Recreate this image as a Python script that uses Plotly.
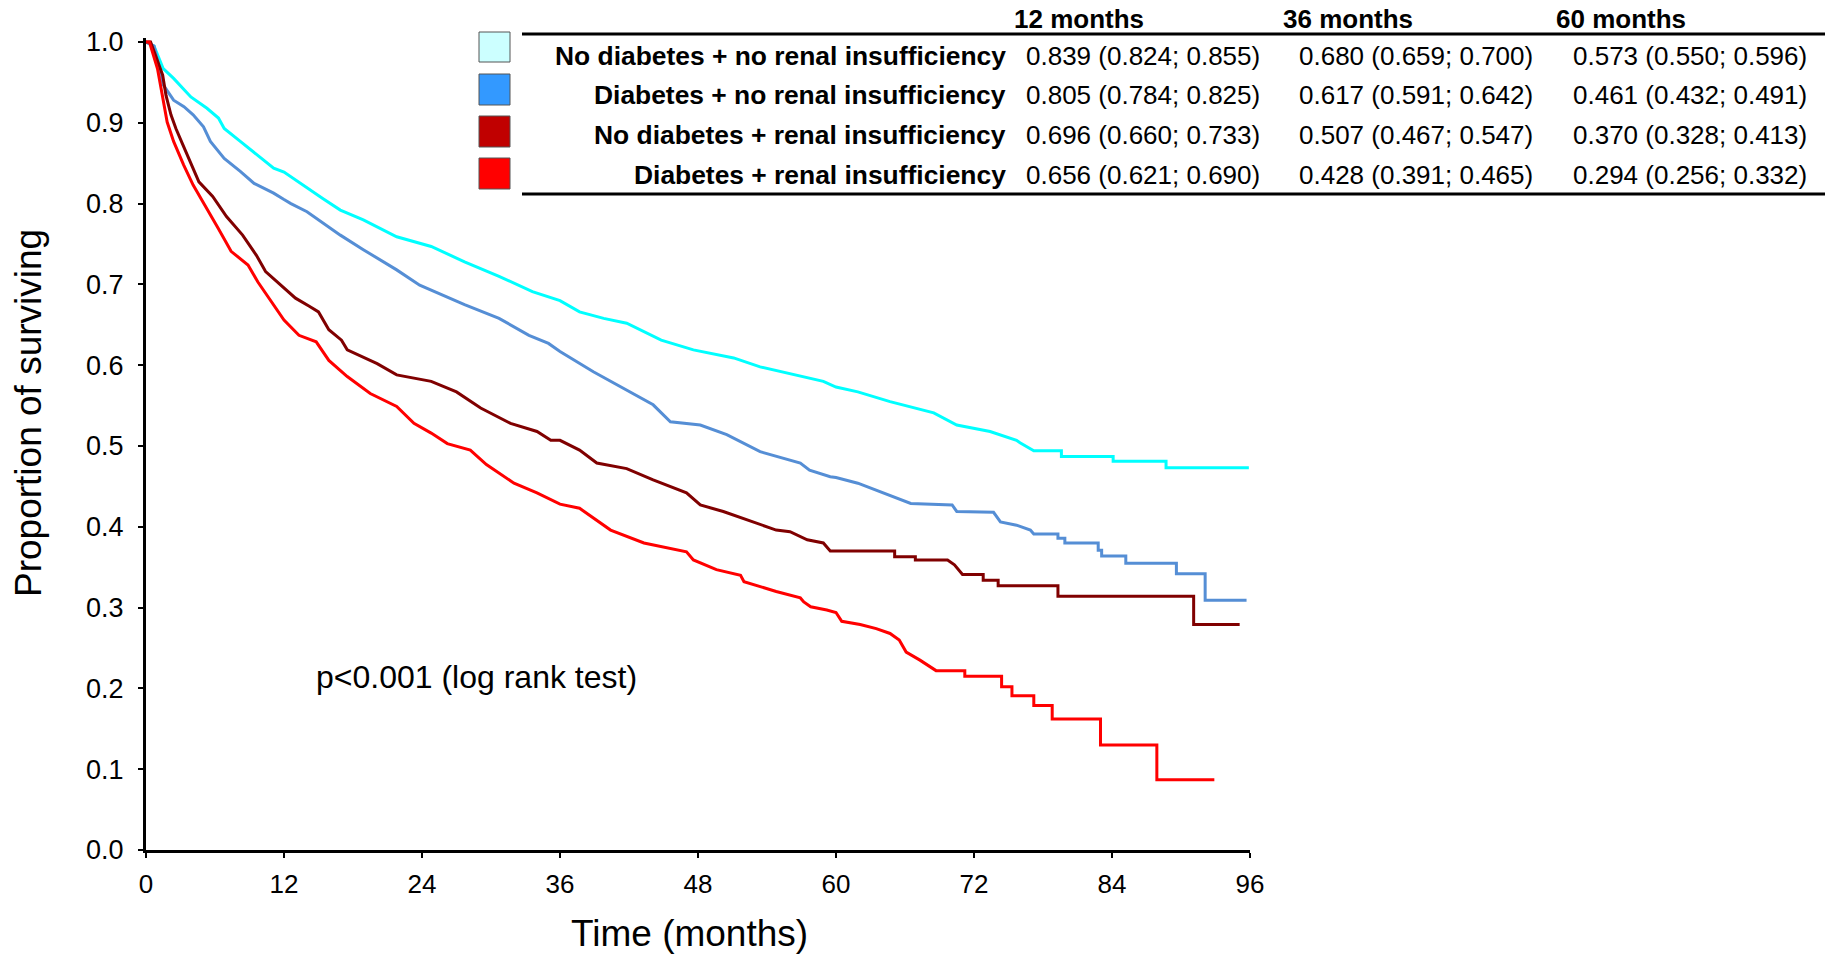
import plotly.graph_objects as go

# ---- Kaplan-Meier survival estimates (time in months, proportion surviving) ----
groups = [
    "No diabetes + no renal insufficiency",
    "Diabetes + no renal insufficiency",
    "No diabetes + renal insufficiency",
    "Diabetes + renal insufficiency",
]

nodm_norf_t = [0, 0.7, 1.5, 2.4, 3.9, 5.3, 6.3, 6.8, 8.2, 9.7, 11.1, 12.0, 12.6, 14.0, 15.4, 16.9,
               18.9, 21.8, 24.8, 27.7, 30.7, 33.6, 36.0, 37.7, 39.8, 41.8, 44.8, 47.6, 51.1, 53.4,
               56.9, 58.9, 60.0, 61.9, 64.7, 68.5, 70.5, 73.4, 75.7, 76.0, 77.2, 79.6, 79.6, 84.1,
               84.1, 88.7, 88.7, 95.9]
nodm_norf_s = [1.0, 0.995, 0.967, 0.955, 0.932, 0.918, 0.906, 0.893, 0.877, 0.860, 0.844, 0.839,
               0.833, 0.819, 0.806, 0.792, 0.780, 0.759, 0.747, 0.728, 0.710, 0.691, 0.680, 0.666,
               0.658, 0.652, 0.631, 0.619, 0.609, 0.598, 0.586, 0.580, 0.573, 0.567, 0.555, 0.541,
               0.526, 0.518, 0.507, 0.504, 0.494, 0.494, 0.487, 0.487, 0.481, 0.481, 0.473, 0.473]

dm_norf_t = [0, 0.7, 1.5, 2.4, 3.3, 4.1, 5.0, 5.6, 6.8, 8.2, 9.4, 11.1, 12.0, 12.6, 14.0, 15.4,
             16.9, 18.9, 21.8, 23.8, 27.7, 30.7, 33.3, 35.0, 36.0, 38.9, 41.8, 44.1, 45.6, 48.2,
             50.5, 53.4, 56.9, 57.7, 59.5, 60.0, 61.9, 63.0, 64.7, 66.5, 70.1, 70.5, 73.7, 74.3,
             75.7, 76.9, 77.2, 79.3, 79.3, 79.9, 79.9, 82.8, 82.8, 83.1, 83.1, 85.2, 85.2, 89.6,
             89.6, 92.1, 92.1, 95.7]
dm_norf_s = [1.0, 0.995, 0.947, 0.928, 0.920, 0.910, 0.895, 0.877, 0.856, 0.840, 0.825, 0.813,
             0.805, 0.800, 0.790, 0.776, 0.761, 0.743, 0.718, 0.699, 0.675, 0.658, 0.637, 0.627,
             0.617, 0.592, 0.569, 0.551, 0.530, 0.526, 0.514, 0.493, 0.479, 0.470, 0.462, 0.461,
             0.454, 0.448, 0.439, 0.429, 0.427, 0.419, 0.418, 0.406, 0.402, 0.396, 0.391, 0.391,
             0.386, 0.386, 0.380, 0.380, 0.371, 0.371, 0.364, 0.364, 0.355, 0.355, 0.342, 0.342,
             0.309, 0.309]

nodm_rf_t = [0, 0.4, 1.45, 1.74, 2.17, 2.6, 3.2, 3.9, 4.6, 5.8, 7.0, 8.4, 9.6, 10.4, 12.0, 13.0,
             14.2, 15.0, 15.9, 17.0, 17.5, 20.1, 21.8, 24.8, 27.0, 29.1, 31.7, 34.0, 35.2, 36.0,
             37.7, 39.2, 41.8, 44.1, 47.0, 48.2, 50.2, 52.8, 54.8, 56.0, 57.5, 58.9, 59.5, 65.1,
             65.1, 66.9, 66.9, 69.7, 70.3, 71.0, 72.8, 72.8, 74.1, 74.1, 79.3, 79.3, 91.1, 91.1,
             95.1]
nodm_rf_s = [1.0, 1.0, 0.959, 0.934, 0.910, 0.893, 0.873, 0.850, 0.827, 0.809, 0.784, 0.761,
             0.736, 0.716, 0.696, 0.683, 0.673, 0.666, 0.644, 0.631, 0.619, 0.602, 0.588, 0.580,
             0.567, 0.547, 0.528, 0.518, 0.507, 0.507, 0.495, 0.479, 0.472, 0.458, 0.442, 0.427,
             0.419, 0.406, 0.396, 0.394, 0.384, 0.380, 0.370, 0.370, 0.363, 0.363, 0.359, 0.359,
             0.353, 0.341, 0.341, 0.334, 0.334, 0.327, 0.327, 0.314, 0.314, 0.279, 0.279]

dm_rf_t = [0, 0.3, 1.0, 1.4, 1.84, 2.4, 3.27, 4.1, 5.3, 6.3, 7.4, 8.87, 9.73, 10.6, 12.0, 13.3,
           14.8, 15.9, 17.5, 19.5, 21.8, 23.3, 24.8, 26.2, 28.2, 29.6, 32.0, 34.0, 36.0, 37.7,
           40.4, 43.3, 47.0, 47.6, 49.6, 51.7, 52.0, 54.8, 56.9, 57.2, 57.8, 59.2, 60.0, 60.5,
           62.1, 63.5, 64.7, 65.5, 66.1, 67.3, 68.7, 71.2, 71.2, 74.4, 74.4, 75.3, 75.3, 77.2,
           77.2, 78.8, 78.8, 83.0, 83.0, 87.9, 87.9, 92.9]
dm_rf_s = [1.0, 1.0, 0.967, 0.934, 0.901, 0.877, 0.848, 0.823, 0.794, 0.769, 0.741, 0.724,
           0.703, 0.685, 0.656, 0.637, 0.629, 0.606, 0.586, 0.565, 0.549, 0.528, 0.516, 0.503,
           0.495, 0.477, 0.454, 0.442, 0.428, 0.423, 0.396, 0.380, 0.369, 0.359, 0.347, 0.340,
           0.332, 0.320, 0.312, 0.307, 0.301, 0.297, 0.294, 0.283, 0.279, 0.274, 0.268, 0.260,
           0.245, 0.235, 0.222, 0.222, 0.215, 0.215, 0.202, 0.202, 0.191, 0.191, 0.179, 0.179,
           0.162, 0.162, 0.130, 0.130, 0.087, 0.087]

# ---- Survival table: estimate (95% CI) at 12, 36 and 60 months ----
table_headers = ["12 months", "36 months", "60 months"]
surv_12 = [0.839, 0.805, 0.696, 0.656]
lo_12 = [0.824, 0.784, 0.660, 0.621]
hi_12 = [0.855, 0.825, 0.733, 0.690]
surv_36 = [0.680, 0.617, 0.507, 0.428]
lo_36 = [0.659, 0.591, 0.467, 0.391]
hi_36 = [0.700, 0.642, 0.547, 0.465]
surv_60 = [0.573, 0.461, 0.370, 0.294]
lo_60 = [0.550, 0.432, 0.328, 0.256]
hi_60 = [0.596, 0.491, 0.413, 0.332]

x_ticks = [0, 12, 24, 36, 48, 60, 72, 84, 96]
y_ticks = [0.0, 0.1, 0.2, 0.3, 0.4, 0.5, 0.6, 0.7, 0.8, 0.9, 1.0]

# ---- Styling ----
FONT = "Liberation Sans, Arial, Helvetica, sans-serif"
line_colors = ["#00FFFF", "#558ED5", "#800000", "#FF0000"]
swatch_colors = ["#CCFFFF", "#3399FF", "#C00000", "#FF0000"]

W, H = 1834, 955
PL, PR, PT, PB = 146, 1250, 38, 850   # plot area edges in pixels


def px_x(px):
    return (px - PL) / (PR - PL)


def px_y(py):
    return (PB - py) / (PB - PT)


curves = [
    (nodm_norf_t, nodm_norf_s),
    (dm_norf_t, dm_norf_s),
    (nodm_rf_t, nodm_rf_s),
    (dm_rf_t, dm_rf_s),
]

fig = go.Figure()
for (t, s), name, col in zip(curves, groups, line_colors):
    fig.add_trace(go.Scatter(
        x=t, y=s, mode="lines", name=name,
        line=dict(color=col, width=3, shape="linear"),
        hoverinfo="skip", showlegend=False,
    ))

axis_common = dict(
    showgrid=False, zeroline=False, showline=True, linecolor="black", linewidth=3,
    ticks="outside", tickcolor="black", tickwidth=2, ticklen=5,
)

fig.update_xaxes(range=[0, 96], tickvals=x_ticks, ticktext=[str(v) for v in x_ticks],
                 ticklabelstandoff=4, tickfont=dict(family=FONT, size=26, color="black"),
                 **axis_common)
fig.update_yaxes(range=[0, 1.005], tickvals=y_ticks, ticktext=[f"{v:.1f}" for v in y_ticks],
                 ticklabelstandoff=9, tickfont=dict(family=FONT, size=27, color="black"),
                 **axis_common)

annotations = []
shapes = []

# Axis titles
annotations.append(dict(
    text="Proportion of surviving", textangle=-90, showarrow=False,
    xref="paper", yref="paper", x=px_x(29), y=px_y(413), xanchor="center", yanchor="middle",
    font=dict(family=FONT, size=37, color="black"),
))
annotations.append(dict(
    text="Time (months)", showarrow=False,
    xref="paper", yref="paper", x=px_x(689), y=px_y(933), xanchor="center", yanchor="middle",
    font=dict(family=FONT, size=37, color="black"),
))
annotations.append(dict(
    text="p<0.001 (log rank test)", showarrow=False,
    xref="paper", yref="paper", x=px_x(476), y=px_y(677), xanchor="center", yanchor="middle",
    font=dict(family=FONT, size=32, color="black"),
))

# Survival table
row_y = [56, 95, 135, 175]
swatch_y = [(32, 62), (74, 105), (116, 147), (158, 189)]
header_x = [1012, 1281, 1554]
value_x = [1024, 1297, 1571]
header_y = 19

shapes.append(dict(type="line", xref="paper", yref="paper",
                   x0=px_x(522), x1=px_x(1825), y0=px_y(34), y1=px_y(34),
                   line=dict(color="black", width=3)))
shapes.append(dict(type="line", xref="paper", yref="paper",
                   x0=px_x(522), x1=px_x(1825), y0=px_y(194), y1=px_y(194),
                   line=dict(color="black", width=3)))

for hx, htxt in zip(header_x, table_headers):
    annotations.append(dict(
        text=f"<b>{htxt}</b>", showarrow=False, xref="paper", yref="paper",
        x=px_x(hx), y=px_y(header_y), xanchor="left", yanchor="middle",
        font=dict(family=FONT, size=26, color="black"),
    ))

columns = [(surv_12, lo_12, hi_12), (surv_36, lo_36, hi_36), (surv_60, lo_60, hi_60)]
for i, name in enumerate(groups):
    y0, y1 = swatch_y[i]
    shapes.append(dict(type="rect", xref="paper", yref="paper",
                       x0=px_x(479), x1=px_x(510), y0=px_y(y1), y1=px_y(y0),
                       fillcolor=swatch_colors[i], line=dict(color="#555555", width=1)))
    annotations.append(dict(
        text=f"<b>{name}</b>", showarrow=False, xref="paper", yref="paper",
        x=px_x(1008), y=px_y(row_y[i]), xanchor="right", yanchor="middle",
        font=dict(family=FONT, size=26.4, color="black"),
    ))
    for vx, (est, lo, hi) in zip(value_x, columns):
        annotations.append(dict(
            text=f"{est[i]:.3f} ({lo[i]:.3f}; {hi[i]:.3f})", showarrow=False,
            xref="paper", yref="paper", x=px_x(vx), y=px_y(row_y[i]),
            xanchor="left", yanchor="middle",
            font=dict(family=FONT, size=26, color="black"),
        ))

fig.update_layout(
    width=W, height=H, autosize=False,
    margin=dict(l=PL, r=W - PR, t=PT, b=H - PB, pad=0),
    paper_bgcolor="white", plot_bgcolor="white",
    annotations=annotations, shapes=shapes,
    font=dict(family=FONT, color="black"),
)

fig.write_html("out.html", config={"displayModeBar": False})
